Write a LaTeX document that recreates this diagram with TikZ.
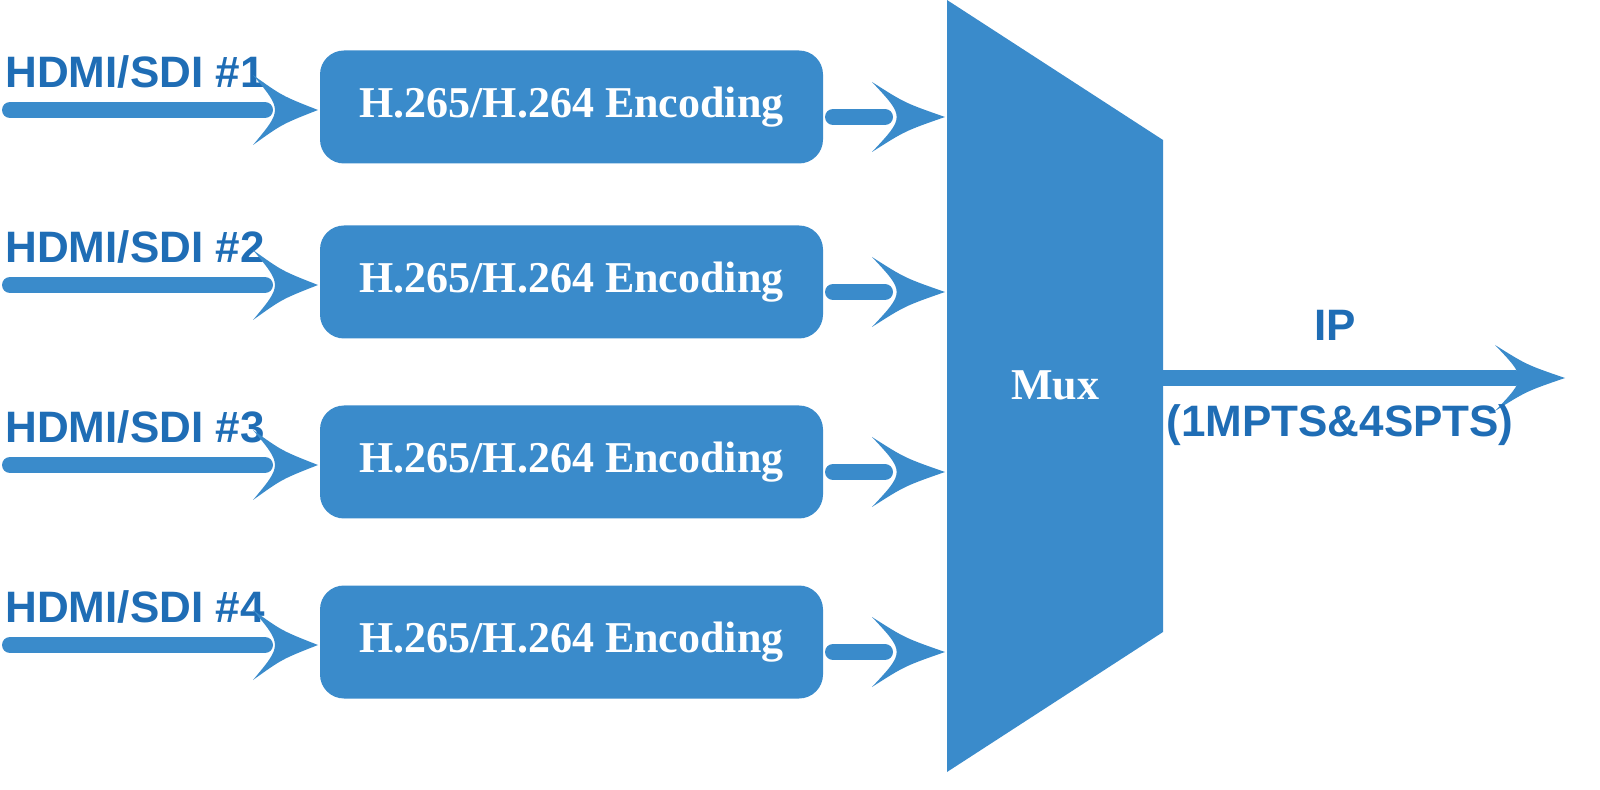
\documentclass[tikz,border=0pt]{standalone}
\usepackage{fontspec}
\setmainfont{Liberation Serif}
\setsansfont{Liberation Sans}
\definecolor{bl}{HTML}{3A8BCB}
\definecolor{dbl}{HTML}{1F6DB5}
\newcommand{\ahead}[4]{\fill[bl] (#1,#2-#4) .. controls (#1+0.45*#3,#2-0.4*#4) .. (#1+#3,#2) .. controls (#1+0.45*#3,#2+0.4*#4) .. (#1,#2+#4) .. controls (#1+0.45*#3,#2) .. cycle;}
\begin{document}
\begin{tikzpicture}[x=0.5pt,y=-0.5pt,
  enc/.style={fill=bl,rounded corners=12pt,minimum width=251.5pt,minimum height=56.5pt,text=white,font=\bfseries\fontsize{22}{26}\selectfont,inner sep=0pt},
  lab/.style={text=dbl,font=\sffamily\bfseries\fontsize{22}{26}\selectfont,anchor=west,inner sep=0pt},
  ln/.style={draw=bl,line width=8pt,line cap=round}]
\useasboundingbox (0,0) rectangle (1600,790);
\foreach \i/\y in {1/107,2/282,3/462,4/642}{
  \node[enc] (e\i) at (571.5,\y) {H.265/H.264 Encoding};
  \node[lab] (l\i) at (5,\y-35) {HDMI/SDI \#\i};
  \coordinate (s\i) at (10,\y+3);
  \coordinate (t\i) at (265,\y+3);
  \draw[ln] (s\i) -- (t\i);
  \ahead{253}{\y+3}{65}{35}
  \coordinate (o\i) at (833,\y+10);
  \coordinate (p\i) at (885,\y+10);
  \draw[ln] (o\i) -- (p\i);
  \ahead{872}{\y+10}{73}{35}
}
\fill[bl] (947,0) -- (1163,140) -- (1163,632) -- (947,772) -- cycle;
\node[text=white,font=\bfseries\fontsize{22}{26}\selectfont] (mux) at (1055,385) {Mux};
\coordinate (m1) at (1163,378);
\coordinate (m2) at (1515,378);
\draw[ln] (m1) -- (m2);
\ahead{1495}{378}{70}{33}
\node[text=dbl,font=\sffamily\bfseries\fontsize{22}{26}\selectfont] (ip) at (1335,325) {IP};
\node[text=dbl,font=\sffamily\bfseries\fontsize{22}{26}\selectfont] (mp) at (1340,425) {(1MPTS\&4SPTS)};
\end{tikzpicture}
\end{document}
